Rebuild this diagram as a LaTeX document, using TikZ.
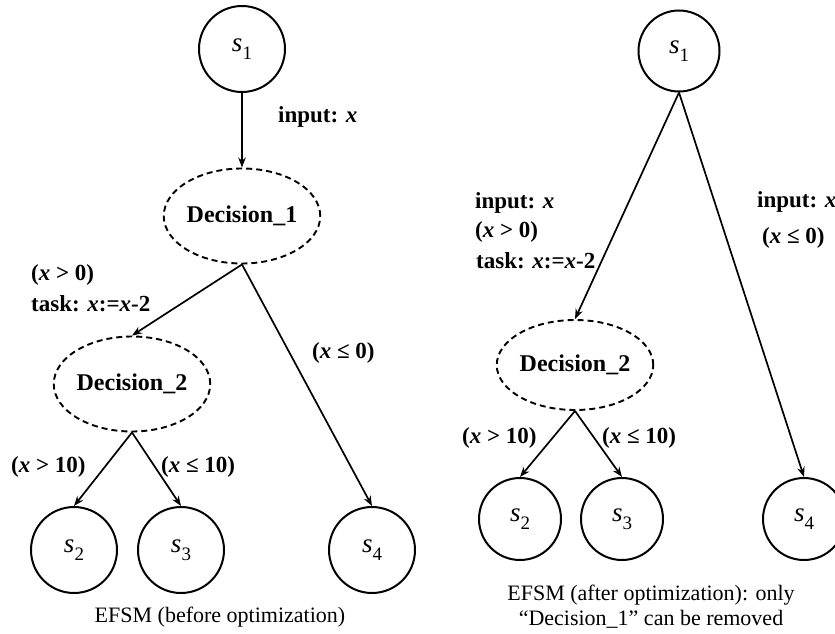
\documentclass[tikz,border=0pt]{standalone}
\usepackage{fontspec}
\setmainfont{Liberation Serif}
\usetikzlibrary{arrows.meta,shapes.geometric}

\newcommand{\stname}[1]{s\raisebox{-0.28em}{\upshape\fontsize{19}{19}\selectfont #1}}

\begin{document}
\begin{tikzpicture}[x=1pt,y=-1pt,
  stnode/.style={circle,draw,line width=2pt,minimum size=#1,inner sep=0pt,
    font=\fontsize{27}{30}\selectfont\itshape},
  decnode/.style={ellipse,draw,dash pattern=on 6pt off 4pt,line width=1.9pt,
    inner sep=0pt,font=\fontsize{24}{28}\selectfont\bfseries},
  lbl/.style={anchor=west,inner sep=0pt,font=\fontsize{23}{26}\selectfont\bfseries},
  captxt/.style={inner sep=0pt,align=center,font=\fontsize{22}{25}\selectfont},
  arr/.style={-{Stealth[length=10pt,width=7.5pt]},line width=1.7pt}]

\useasboundingbox (0,0) rectangle (835,634);
\clip (0,0) rectangle (835,634);

% ---------- EFSM before optimization ----------
\node[stnode=86] (Ls1) at (242,49) {\stname{1}};
\node[decnode,minimum width=154,minimum height=95] (Ld1) at (242,216) {Decision\_1};
\node[decnode,minimum width=154,minimum height=95] (Ld2) at (132,384) {Decision\_2};
\node[stnode=86] (Ls2) at (74,550) {\stname{2}};
\node[stnode=86] (Ls3) at (181,550) {\stname{3}};
\node[stnode=86] (Ls4) at (372,550) {\stname{4}};

\draw[arr] (Ls1.south) -- (Ld1.north);
\draw[arr] (Ld1.south) -- (Ld2.north);
\draw[arr] (Ld1.south) -- (Ls4.north);
\draw[arr] (Ld2.south) -- (Ls2.north);
\draw[arr] (Ld2.south) -- (Ls3.north);

\node[lbl] (Linput) at (278,117) {input: \textit{x}};
\node[lbl] (Lgt0) at (31,275) {(\textit{x} > 0)};
\node[lbl] (Ltask) at (31,304) {task: \textit{x}:=\textit{x}-2};
\node[lbl] (Lle0) at (312,353) {(\textit{x} ≤ 0)};
\node[lbl] (Lgt10) at (11,467) {(\textit{x} > 10)};
\node[lbl] (Lle10) at (161,467) {(\textit{x} ≤ 10)};

\node[captxt] (Lcap) at (220,617) {EFSM (before optimization)};

% ---------- EFSM after optimization ----------
\node[stnode=81] (Rs1) at (679,51) {\stname{1}};
\node[decnode,minimum width=144,minimum height=90] (Rd2) at (575,365) {Decision\_2};
\node[stnode=82] (Rs2) at (520,519) {\stname{2}};
\node[stnode=82] (Rs3) at (622,519) {\stname{3}};
\node[stnode=82] (Rs4) at (804,519) {\stname{4}};

\draw[arr] (Rs1.south) -- (Rd2.north);
\draw[arr] (Rs1.south) -- (Rs4.north);
\draw[arr] (Rd2.south) -- (Rs2.north);
\draw[arr] (Rd2.south) -- (Rs3.north);

\node[lbl] (Rinput) at (475,203) {input: \textit{x}};
\node[lbl] (Rgt0) at (475,232) {(\textit{x} > 0)};
\node[lbl] (Rtask) at (476,261) {task: \textit{x}:=\textit{x}-2};
\node[lbl] (Rinput2) at (757,202) {input: \textit{x}};
\node[lbl] (Rle0) at (762,238) {(\textit{x} ≤ 0)};
\node[lbl] (Rgt10) at (462,438) {(\textit{x} > 10)};
\node[lbl] (Rle10) at (602,438) {(\textit{x} ≤ 10)};

\node[captxt] (Rcap) at (651,607) {EFSM (after optimization): only\\“Decision\_1” can be removed};

\end{tikzpicture}
\end{document}
